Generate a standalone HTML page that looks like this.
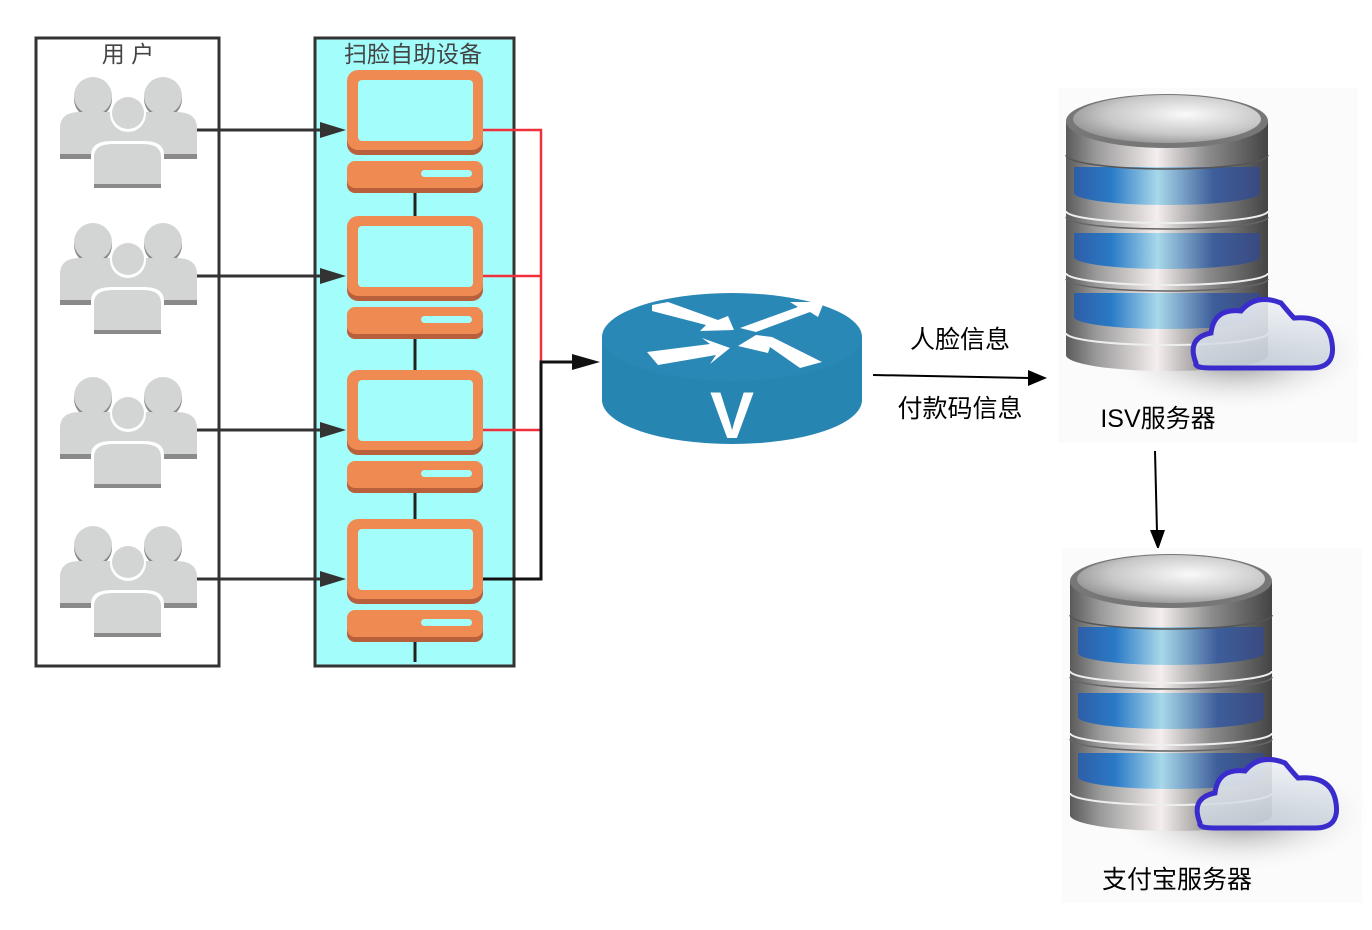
<!DOCTYPE html>
<html><head><meta charset="utf-8"><style>
html,body{margin:0;padding:0;background:#fff;}
svg{display:block;}
text{font-family:"Liberation Sans","Noto Sans CJK SC",sans-serif;}
</style></head><body>
<svg width="1372" height="930" viewBox="0 0 1372 930" xmlns="http://www.w3.org/2000/svg">
<defs>
<g id="ppl">
  <circle cx="93" cy="-31" r="19" fill="#888"/>
  <circle cx="93" cy="-34" r="19" fill="#d3d4d4"/>
  <circle cx="163" cy="-31" r="19" fill="#888"/>
  <circle cx="163" cy="-34" r="19" fill="#d3d4d4"/>
  <path d="M60,28 L60,-2 Q60,-18 80,-18 L110,-18 Q122,-8 128,-8 Q134,-8 146,-18 L176,-18 Q197,-18 197,-2 L197,28 Z" fill="#d3d4d4"/>
  <rect x="60" y="24" width="137" height="5" fill="#8a8a8a"/>
  <circle cx="128" cy="-16" r="18" fill="#fff"/>
  <circle cx="128" cy="-17" r="16" fill="#d3d4d4"/>
  <path d="M91,61 L91,25 Q91,11 112,11 L144,11 Q164,11 164,25 L164,61 Z" fill="#fff"/>
  <path d="M94,58 L94,27 Q94,14 113,14 L143,14 Q161,14 161,27 L161,58 Z" fill="#d3d4d4"/>
  <rect x="94" y="54" width="67" height="4" fill="#8a8a8a"/>
</g>
<g id="term">
  <rect x="347" y="2" width="136" height="83" rx="11" fill="#b8603c"/>
  <rect x="347" y="0" width="136" height="80" rx="11" fill="#ee8a52"/>
  <rect x="358" y="10" width="115" height="61" rx="4" fill="#a3fdfb"/>
  <rect x="347" y="94" width="136" height="29" rx="8" fill="#b8603c"/>
  <rect x="347" y="91" width="136" height="27" rx="8" fill="#ee8a52"/>
  <rect x="421" y="100" width="51" height="7" rx="3.5" fill="#a3fdfb"/>
</g>
<linearGradient id="silver" x1="0" x2="1" y1="0" y2="0">
  <stop offset="0" stop-color="#5a5a5a"/><stop offset="0.15" stop-color="#9a9a9a"/><stop offset="0.45" stop-color="#f5eeee"/><stop offset="0.7" stop-color="#8c8c8c"/><stop offset="1" stop-color="#444"/>
</linearGradient>
<linearGradient id="blue" x1="0" x2="1" y1="0" y2="0">
  <stop offset="0" stop-color="#2f5ea8"/><stop offset="0.2" stop-color="#2a7ac6"/><stop offset="0.45" stop-color="#a8d8ea"/><stop offset="0.75" stop-color="#3d5e9a"/><stop offset="1" stop-color="#3a4a80"/>
</linearGradient>
<radialGradient id="topg" cx="0.6" cy="0.4" r="0.7">
  <stop offset="0" stop-color="#fafafa"/><stop offset="0.6" stop-color="#c8c8c8"/><stop offset="1" stop-color="#8a8a8a"/>
</radialGradient>
<radialGradient id="shad" cx="0.5" cy="0.5" r="0.5">
  <stop offset="0" stop-color="#666" stop-opacity="0.85"/><stop offset="1" stop-color="#fff" stop-opacity="0"/>
</radialGradient>
<linearGradient id="cloudg" x1="0" x2="0" y1="0" y2="1"><stop offset="0" stop-color="#eef2f6"/><stop offset="1" stop-color="#c9d2dc"/></linearGradient>
<g id="db">
  <rect x="-8" y="-5" width="300" height="355" fill="#fbfbfb"/>
  <ellipse cx="170" cy="262" rx="135" ry="58" fill="url(#shad)"/>
  <path d="M0,28 L0,262 A101,16 0 0 0 202,262 L202,28 Z" fill="url(#silver)"/>
  <path d="M8,74 L194,74 L194,100 A93,12 0 0 1 8,100 Z" fill="url(#blue)"/>
  <path d="M8,140 L194,140 L194,164 A93,12 0 0 1 8,164 Z" fill="url(#blue)"/>
  <path d="M8,200 L194,200 L194,224 A93,12 0 0 1 8,224 Z" fill="url(#blue)"/>
  <path d="M0,62 A101,14 0 0 0 202,62" fill="none" stroke="#555" stroke-width="1.5"/>
  <path d="M0,118 A101,12 0 0 0 202,118" fill="none" stroke="#eee" stroke-width="2"/>
  <path d="M0,124 A101,12 0 0 0 202,124" fill="none" stroke="#666" stroke-width="1.5"/>
  <path d="M0,180 A101,12 0 0 0 202,180" fill="none" stroke="#eee" stroke-width="2"/>
  <path d="M0,186 A101,12 0 0 0 202,186" fill="none" stroke="#666" stroke-width="1.5"/>
  <path d="M0,240 A101,12 0 0 0 202,240" fill="none" stroke="#eee" stroke-width="2"/>
  <ellipse cx="101" cy="28" rx="101" ry="27" fill="#777"/>
  <ellipse cx="101" cy="26" rx="94" ry="24" fill="url(#topg)"/>
  <path d="M130,270 Q120,245 145,240 Q148,215 175,218 Q190,200 215,210 Q225,222 228,225 Q262,222 266,250 Q270,275 245,275 L145,275 Q128,275 130,270 Z" fill="url(#cloudg)" fill-opacity="0.9" stroke="#3a2ccc" stroke-width="5"/>
</g>
</defs>

<rect x="36" y="38" width="183" height="628" fill="#fff" stroke="#333" stroke-width="3"/>
<text x="128" y="62" font-size="23" fill="#444" text-anchor="middle">用 户</text>
<rect x="315" y="38" width="199" height="628" fill="#a3fdfb" stroke="#333" stroke-width="3"/>
<text x="413" y="62" font-size="23" fill="#444" text-anchor="middle">扫脸自助设备</text>

<g stroke="#222" stroke-width="3">
<line x1="415" y1="190" x2="415" y2="217"/>
<line x1="415" y1="335" x2="415" y2="371"/>
<line x1="415" y1="489" x2="415" y2="520"/>
<line x1="415" y1="638" x2="415" y2="662"/>
</g>

<use href="#ppl" transform="translate(0,130)"/>
<use href="#ppl" transform="translate(0,276)"/>
<use href="#ppl" transform="translate(0,430)"/>
<use href="#ppl" transform="translate(0,579)"/>

<use href="#term" transform="translate(0,70)"/>
<use href="#term" transform="translate(0,216)"/>
<use href="#term" transform="translate(0,370)"/>
<use href="#term" transform="translate(0,519)"/>

<g stroke="#333" stroke-width="3" fill="#333">
<line x1="197" y1="130" x2="325" y2="130"/><path d="M320,122 L346,130 L320,138 z" stroke="none"/>
<line x1="197" y1="276" x2="325" y2="276"/><path d="M320,268 L346,276 L320,284 z" stroke="none"/>
<line x1="197" y1="430" x2="325" y2="430"/><path d="M320,422 L346,430 L320,438 z" stroke="none"/>
<line x1="197" y1="579" x2="325" y2="579"/><path d="M320,571 L346,579 L320,587 z" stroke="none"/>
</g>
<g stroke="#f0303c" stroke-width="2.5" fill="none">
<polyline points="483,130 541,130 541,430 483,430"/>
<line x1="483" y1="276" x2="541" y2="276"/>
</g>
<polyline points="483,579 541,579 541,362 580,362" stroke="#111" stroke-width="3" fill="none"/>
<path d="M572,354 L600,362 L572,370 z" fill="#111"/>

<path d="M602,337 L602,400 A130,44 0 0 0 862,400 L862,337 Z" fill="#2785b2"/>
<ellipse cx="732" cy="337" rx="130" ry="44" fill="#2a88b6"/>
<g fill="#fff">
<path d="M652,305 L668,302 L718,320 L728,316 L734,330 L700,331 L706,325 L652,311 z"/>
<path d="M740,328 L798,307 L790,302 L824,302 L818,317 L810,312 L756,332 z"/>
<path d="M647,352 L658,365 L716,355 L710,364 L730,348 L702,338 L710,344 z"/>
<path d="M738,346 L756,335 L772,337 L822,362 L800,368 L770,347 L768,353 z"/>
</g>
<text x="732" y="438" font-size="66" font-weight="bold" fill="#fff" text-anchor="middle">V</text>

<line x1="873" y1="375" x2="1030" y2="378" stroke="#000" stroke-width="2"/>
<path d="M1028,370 L1047,378 L1028,386 z" fill="#000"/>
<text x="960" y="348" font-size="25" fill="#000" text-anchor="middle">人脸信息</text>
<text x="960" y="417" font-size="25" fill="#000" text-anchor="middle">付款码信息</text>

<use href="#db" transform="translate(1066,93)"/>
<text x="1158" y="427" font-size="25" fill="#000" text-anchor="middle">ISV服务器</text>

<line x1="1155" y1="451" x2="1157" y2="532" stroke="#000" stroke-width="2"/>
<path d="M1150,530 L1158,550 L1165,530 z" fill="#000"/>

<use href="#db" transform="translate(1070,553)"/>
<text x="1177" y="888" font-size="25" fill="#000" text-anchor="middle">支付宝服务器</text>
</svg>
</body></html>
